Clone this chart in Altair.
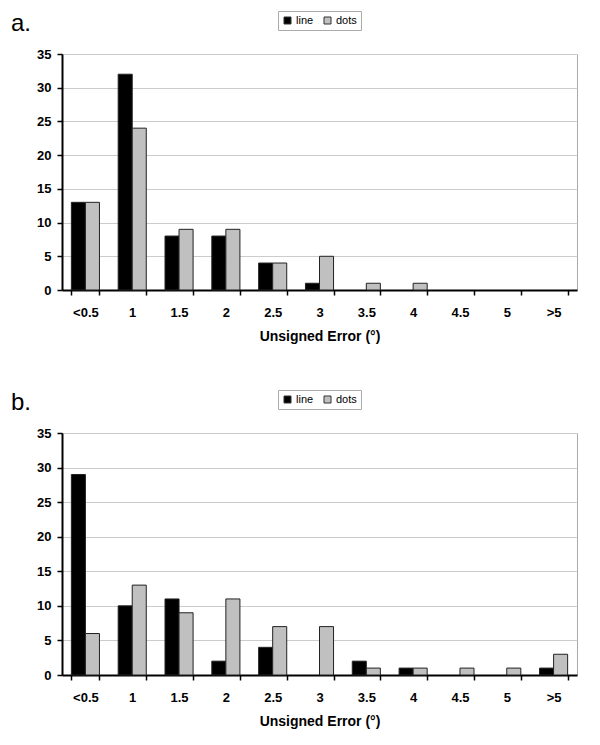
import altair as alt
import pandas as pd

categories = ["<0.5", "1", "1.5", "2", "2.5", "3", "3.5", "4", "4.5", "5", ">5"]
series = ["line", "dots"]
a_line = [13, 32, 8, 8, 4, 1, 0, 0, 0, 0, 0]
a_dots = [13, 24, 9, 9, 4, 5, 1, 1, 0, 0, 0]
b_line = [29, 10, 11, 2, 4, 0, 2, 1, 0, 0, 1]
b_dots = [6, 13, 9, 11, 7, 7, 1, 1, 1, 1, 3]
y_ticks = [0, 5, 10, 15, 20, 25, 30, 35]

FONT = "Liberation Sans"


def make_df(line, dots):
    rows = []
    for c, l, d in zip(categories, line, dots):
        rows.append({"cat": c, "series": "line", "value": l})
        rows.append({"cat": c, "series": "dots", "value": d})
    return pd.DataFrame(rows)


def panel(df, label, h):
    return alt.Chart(
        df,
        title=alt.TitleParams(label, anchor="start", frame="group", fontSize=24,
                              font=FONT, fontWeight="normal", color="black",
                              dx=-51, dy=35, offset=10),
    ).transform_filter("datum.value > 0").mark_bar(stroke="#222222", strokeWidth=1).encode(
        x=alt.X("cat:N", sort=categories,
                scale=alt.Scale(domain=categories, paddingInner=0.4, paddingOuter=0.2),
                axis=alt.Axis(title="Unsigned Error (°)", labelAngle=0, tickBand="extent",
                              domainColor="black", domainWidth=2, tickColor="black",
                              tickWidth=1.5, tickSize=5, labelFont=FONT, labelFontSize=13,
                              labelFontWeight="bold", labelColor="black", labelPadding=11,
                              titleFont=FONT, titleFontSize=14, titleFontWeight="bold",
                              titleColor="black", titlePadding=10, grid=False)),
        xOffset=alt.XOffset("series:N", sort=series, scale=alt.Scale(domain=series)),
        y=alt.Y("value:Q", scale=alt.Scale(domain=[0, 35]),
                axis=alt.Axis(values=y_ticks, title=None, grid=True, gridColor="#cccccc",
                              domainColor="black", domainWidth=2, tickColor="black",
                              tickWidth=1.5, tickSize=5, labelFont=FONT, labelFontSize=13,
                              labelFontWeight="bold", labelColor="black", labelPadding=6)),
        color=alt.Color("series:N", sort=series,
                        scale=alt.Scale(domain=series, range=["#000000", "#c0c0c0"]),
                        legend=alt.Legend(title=None, orient="none", legendX=216, legendY=-43,
                                          direction="horizontal", strokeColor="#aaaaaa",
                                          padding=4, symbolType="square", symbolSize=49,
                                          symbolStrokeColor="#333333", symbolStrokeWidth=1,
                                          labelFont=FONT, labelFontSize=11, labelColor="black",
                                          columnPadding=8, labelOffset=3)),
    ).properties(width=515, height=h)


chart = alt.vconcat(
    panel(make_df(a_line, a_dots), "a.", 236),
    panel(make_df(b_line, b_dots), "b.", 242),
    spacing=45,
).resolve_legend(color="independent").configure_view(
    stroke="#aaaaaa"
).properties(padding={"left": 2, "top": 2, "right": 5, "bottom": 2})

chart.save("out.html", embed_options={"renderer": "svg", "actions": False})
